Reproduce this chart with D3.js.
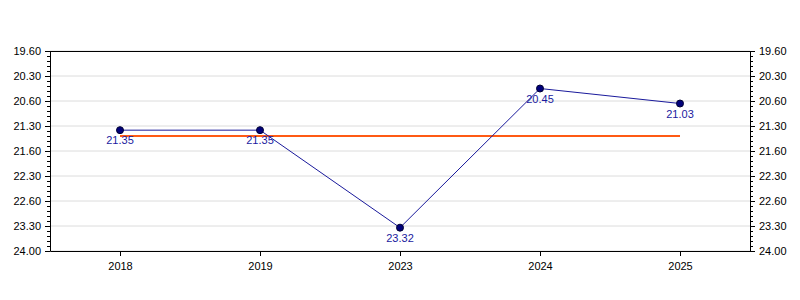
<!DOCTYPE html>
<html>
<head>
<meta charset="utf-8">
<script src="https://cdn.jsdelivr.net/npm/d3@7"></script>
<style>
  body { margin: 0; background: #fff; }
  text { font-family: "Liberation Sans", Arial, sans-serif; }
</style>
</head>
<body>
<div id="chart"></div>
<script>
// donnees (temps en min.sec)
const years = ["2018", "2019", "2023", "2024", "2025"];
const times = [21.35, 21.35, 23.32, 20.45, 21.03];
const target = 21.42;
const tickValues = [20, 20.5, 21, 21.5, 22, 22.5, 23, 23.5, 24];
const tickLabels = ["19.60", "20.30", "20.60", "21.30", "21.60", "22.30", "22.60", "23.30", "24.00"];

// min.sec -> minutes
const toMin = v => Math.floor(v) + Math.round((v - Math.floor(v)) * 100) / 60;

const W = 800, H = 300;
const m = {top: 51, right: 50, bottom: 49, left: 50};

const svg = d3.select("#chart").append("svg")
  .attr("width", W)
  .attr("height", H);

const x = d3.scalePoint()
  .domain(years)
  .range([m.left, W - m.right])
  .padding(0.5);

const y = d3.scaleLinear()
  .domain([20, 24])
  .range([m.top, H - m.bottom]);

// grille
svg.append("g")
  .selectAll("line")
  .data(tickValues)
  .enter()
  .append("line")
  .attr("x1", m.left)
  .attr("x2", W - m.right)
  .attr("y1", d => y(d))
  .attr("y2", d => y(d))
  .attr("stroke", "#dcdcdc")
  .attr("stroke-width", 1);

// petites graduations
const minor = d3.range(20, 24.001, 0.1).filter(v => Math.abs(v * 2 - Math.round(v * 2)) > 0.01);

function yAxis(side) {
  const g = svg.append("g")
    .attr("transform", `translate(${side == "left" ? m.left : W - m.right},0)`);
  const axis = (side == "left" ? d3.axisLeft(y) : d3.axisRight(y))
    .tickValues(tickValues)
    .tickFormat((d, i) => tickLabels[i])
    .tickSize(5)
    .tickSizeOuter(0);
  g.call(axis);
  g.select(".domain").attr("stroke", "#000");
  g.selectAll(".tick line").attr("stroke", "#000");
  g.selectAll(".tick text")
    .attr("fill", "#000")
    .style("font-size", "11px")
    .attr("x", side == "left" ? -9 : 9);
  g.selectAll(".minor")
    .data(minor)
    .enter()
    .append("line")
    .attr("x1", 0)
    .attr("x2", side == "left" ? -3 : 3)
    .attr("y1", d => y(d) + 0.5)
    .attr("y2", d => y(d) + 0.5)
    .attr("stroke", "#000");
}
yAxis("left");
yAxis("right");

// bord haut
svg.append("line")
  .attr("x1", m.left).attr("x2", W - m.right)
  .attr("y1", m.top + 0.5).attr("y2", m.top + 0.5)
  .attr("stroke", "#000");

// axe x
const gx = svg.append("g")
  .attr("transform", `translate(0,${H - m.bottom})`)
  .call(d3.axisBottom(x).tickSize(5).tickSizeOuter(0));
gx.select(".domain").attr("stroke", "#000");
gx.selectAll(".tick line").attr("stroke", "#000");
gx.selectAll(".tick text")
  .attr("fill", "#000")
  .attr("y", 11)
  .style("font-size", "11px");

// ligne objectif
svg.append("line")
  .attr("x1", x(years[0]))
  .attr("x2", x(years[years.length - 1]))
  .attr("y1", y(toMin(target)))
  .attr("y2", y(toMin(target)))
  .attr("stroke", "#ff5a14")
  .attr("stroke-width", 2);

// serie
const pts = years.map((yr, i) => ({yr: yr, v: times[i]}));

const line = d3.line()
  .x(d => x(d.yr))
  .y(d => y(toMin(d.v)));

svg.append("path")
  .datum(pts)
  .attr("d", line)
  .attr("fill", "none")
  .attr("stroke", "#1a1a9c")
  .attr("stroke-width", 1);

svg.append("g")
  .selectAll("circle")
  .data(pts)
  .enter()
  .append("circle")
  .attr("cx", d => x(d.yr))
  .attr("cy", d => y(toMin(d.v)))
  .attr("r", 3.5)
  .attr("fill", "#00007a")
  .attr("stroke", "#000033")
  .attr("stroke-width", 1);

svg.append("g")
  .selectAll("text")
  .data(pts)
  .enter()
  .append("text")
  .attr("x", d => x(d.yr))
  .attr("y", d => y(toMin(d.v)) + 14)
  .attr("text-anchor", "middle")
  .attr("fill", "#1a1aa0")
  .style("font-size", "11px")
  .text(d => d.v.toFixed(2));
</script>
</body>
</html>
